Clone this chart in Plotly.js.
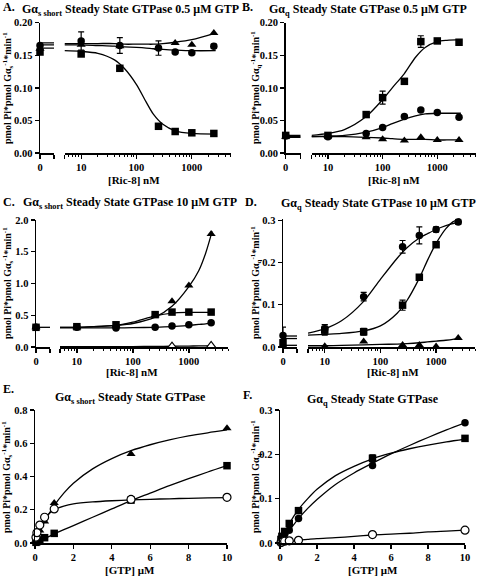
<!DOCTYPE html>
<html>
<head>
<meta charset="utf-8">
<script src="https://cdn.plot.ly/plotly-3.0.1.min.js"></script>
<style>html,body{margin:0;padding:0;background:#fff;}#chart{width:477px;height:576px;}</style>
</head>
<body>
<div id="chart"></div>
<script>
// ---------------- DATA ----------------
// Ric-8 concentrations (nM); first value (0) is drawn on the broken "0" segment
const ricConcA = [0, 10, 50, 250, 500, 1000, 2500];
const ricConcB = [0, 10, 50, 100, 250, 500, 1000, 2500];
const ricConcC = [0, 10, 50, 250, 500, 1000, 2500];
const ricConcD = [0, 10, 50, 250, 500, 1000, 2500];
const gtpConc  = [0.05, 0.1, 0.25, 0.5, 1, 5, 10];

// Panel A: Gαs short, 0.5 µM GTP
const aSquares   = [0.155, 0.152, 0.130, 0.041, 0.033, 0.031, 0.030];
const aCircles   = [0.165, 0.172, 0.165, 0.161, 0.155, 0.154, 0.164];
const aCirclesErr= [0, 0.014, 0.012, 0.011, 0, 0, 0.003];
const aTriangles = [0.160, 0.166, 0.164, 0.161, 0.169, 0.166, 0.184];
const aFitX      = [5, 10, 20, 40, 60, 100, 150, 200, 300, 500, 1000, 2700];
const aSquaresFit  = [0.157, 0.156, 0.153, 0.143, 0.130, 0.105, 0.078, 0.060, 0.044, 0.034, 0.030, 0.029];
const aCirclesFit  = [0.166, 0.166, 0.165, 0.164, 0.163, 0.162, 0.161, 0.160, 0.159, 0.158, 0.157, 0.157];
const aTrianglesFit= [0.168, 0.168, 0.168, 0.168, 0.167, 0.167, 0.167, 0.167, 0.168, 0.170, 0.174, 0.184];
const aZeroFit   = [0.161, 0.166, 0.169];

// Panel B: Gαq, 0.5 µM GTP
const bSquares   = [0.027, 0.027, 0.059, 0.085, 0.110, 0.171, 0.172, 0.170];
const bSquaresErr= [0, 0, 0, 0.010, 0, 0.009, 0.003, 0];
const bCircles   = [0.026, 0.025, 0.030, 0.039, 0.056, 0.066, 0.062, 0.055];
const bTriangles = [0.025, 0.026, 0.024, 0.021, 0.019, 0.024, 0.020, 0.020];
const bFitX      = [5, 10, 20, 50, 100, 150, 250, 400, 600, 1000, 1500, 2700];
const bSquaresFit  = [0.027, 0.030, 0.036, 0.056, 0.082, 0.100, 0.122, 0.147, 0.162, 0.171, 0.173, 0.174];
const bCirclesFit  = [0.025, 0.026, 0.027, 0.032, 0.039, 0.045, 0.052, 0.057, 0.060, 0.061, 0.061, 0.061];
const bTrianglesFit= [0.025, 0.025, 0.025, 0.024, 0.023, 0.022, 0.021, 0.021, 0.021, 0.020, 0.020, 0.020];
const bZeroFit   = [0.027, 0.025, 0.024];

// Panel C: Gαs short, 10 µM GTP
const cSquares   = [0.31, 0.32, 0.35, 0.51, 0.55, 0.55, 0.55];
const cCircles   = [0.31, 0.31, 0.30, 0.31, 0.33, 0.35, 0.38];
const cTriangles = [0.31, 0.31, 0.34, 0.50, 0.72, 0.97, 1.78];
const cOpenConc  = [500, 2500];
const cOpenTriangles = [0.01, 0.02];
const cFitX      = [5, 10, 20, 50, 100, 250, 500, 1000, 1500, 2000, 2600];
const cSquaresFit  = [0.31, 0.31, 0.32, 0.34, 0.39, 0.49, 0.535, 0.545, 0.545, 0.545, 0.545];
const cTrianglesFit= [0.31, 0.31, 0.32, 0.34, 0.37, 0.47, 0.64, 0.95, 1.20, 1.48, 1.82];
const cCirclesFit  = [0.30, 0.30, 0.30, 0.30, 0.305, 0.31, 0.32, 0.34, 0.355, 0.365, 0.38];
const cOpenFit     = [0.005, 0.005, 0.005, 0.006, 0.007, 0.009, 0.012, 0.015, 0.017, 0.019, 0.021];
const cZeroFit   = [0.31];

// Panel D: Gαq, 10 µM GTP
const dCircles   = [0.027, 0.043, 0.119, 0.237, 0.264, 0.278, 0.296];
const dCirclesErr= [0.020, 0.010, 0.010, 0.015, 0.020, 0.006, 0.006];
const dSquares   = [0.010, 0.040, 0.036, 0.099, 0.165, 0.242, 0.305];
const dSquaresErr= [0, 0.012, 0.008, 0.012, 0, 0, 0.008];
const dTriangles = [0.003, 0.002, 0.013, 0.005, 0.005, 0.001, 0.021];
const dFitX      = [5, 10, 20, 50, 100, 200, 300, 500, 700, 1000, 1500, 2000, 2700];
const dCirclesFit  = [0.033, 0.043, 0.062, 0.108, 0.160, 0.210, 0.235, 0.258, 0.268, 0.278, 0.287, 0.292, 0.298];
const dSquaresFit  = [0.028, 0.030, 0.032, 0.038, 0.050, 0.080, 0.110, 0.163, 0.205, 0.245, 0.280, 0.296, 0.304];
const dTrianglesFit= [0.003, 0.003, 0.004, 0.005, 0.006, 0.007, 0.008, 0.010, 0.012, 0.014, 0.016, 0.018, 0.021];
const dZeroFit   = [0.026, 0.020, 0.004];

// Panel E: Gαs short vs GTP
const eTriangles = [0.02, 0.04, 0.075, 0.13, 0.24, 0.535, 0.69];
const eSquares   = [0.004, 0.008, 0.018, 0.032, 0.058, 0.258, 0.465];
const eOpenCircles = [0.035, 0.062, 0.108, 0.155, 0.205, 0.262, 0.275];
const gtpFitX    = [0, 0.25, 0.5, 1, 1.5, 2, 3, 4, 5, 6, 7, 8, 9, 10];
const eTrianglesFit = [0, 0.068, 0.129, 0.225, 0.30, 0.36, 0.446, 0.508, 0.555, 0.591, 0.62, 0.644, 0.663, 0.68];
const eSquaresFit   = [0, 0.012, 0.026, 0.055, 0.08, 0.105, 0.155, 0.205, 0.255, 0.30, 0.345, 0.387, 0.427, 0.465];
const eOpenFit      = [0, 0.095, 0.148, 0.20, 0.222, 0.235, 0.247, 0.254, 0.259, 0.263, 0.266, 0.269, 0.271, 0.273];

// Panel F: Gαq vs GTP
const fCircles   = [0.005, 0.011, 0.020, 0.029, 0.055, 0.175, 0.271];
const fSquares   = [0.008, 0.015, 0.026, 0.044, 0.073, 0.191, 0.236];
const fSquaresErr= [0, 0, 0, 0, 0.003, 0.008, 0.003];
const fOpenCircles = [0.001, 0.002, 0.004, 0.005, 0.006, 0.019, 0.029];
const fSquaresFit  = [0, 0.023, 0.0435, 0.0757, 0.100, 0.121, 0.152, 0.173, 0.19, 0.2025, 0.2126, 0.221, 0.228, 0.234];
const fCirclesFit  = [0, 0.014, 0.028, 0.055, 0.078, 0.098, 0.132, 0.158, 0.180, 0.201, 0.220, 0.238, 0.255, 0.271];
const fOpenFit     = [0, 0.002, 0.003, 0.006, 0.008, 0.010, 0.012, 0.015, 0.018, 0.020, 0.022, 0.025, 0.027, 0.029];

// tick labels
const logTickVals = [5, 10, 100, 1000];
const logTickText = ['', '10', '100', '1000'];
const logMinorVals = [6,7,8,9,20,30,40,50,60,70,80,90,200,300,400,500,600,700,800,900,2000,3000,4000,5000];
const zeroSegTicks = [0, 1];
const zeroSegText = ['0', ''];
const zeroSegX = [0, 1];

// ---------------- LAYOUT HELPERS ----------------
const W = 477, H = 576;
const px = v => v / W, py = v => 1 - v / H;
const FONT = 'Liberation Serif';
const tickFont = {family: FONT, size: 10.5, color: 'black', weight: 700};
const baseAx = {showline: true, linecolor: 'black', linewidth: 1.5, ticks: 'outside', ticklen: 4,
  tickwidth: 1.3, tickcolor: 'black', showgrid: false, zeroline: false, tickfont: tickFont, fixedrange: true};

const layout = {width: W, height: H, margin: {l: 0, r: 0, t: 0, b: 0}, showlegend: false,
  font: {family: FONT, color: 'black'},
  paper_bgcolor: 'white', plot_bgcolor: 'rgba(0,0,0,0)', annotations: [], shapes: []};
const traces = [];

function ric8Panel(n, geo, yRange, yTicks, yFmt) {
  const zx = 'xaxis' + (2 * n - 1 === 1 ? '' : (2 * n - 1));
  const lx = 'xaxis' + (2 * n);
  const yk = 'yaxis' + (n === 1 ? '' : n);
  const yId = 'y' + (n === 1 ? '' : n);
  const zxId = 'x' + (2 * n - 1 === 1 ? '' : (2 * n - 1));
  layout[zx] = Object.assign({}, baseAx, {domain: [px(geo.zero[0]), px(geo.zero[1])], range: [0, 1],
    tickmode: 'array', tickvals: zeroSegTicks, ticktext: zeroSegText, anchor: yId});
  layout[lx] = Object.assign({}, baseAx, {domain: [px(geo.log[0]), px(geo.log[1])], type: 'log',
    range: [Math.log10(5), Math.log10(5000)], tickmode: 'array', tickvals: logTickVals, ticktext: logTickText,
    anchor: yId, minor: {tickmode: 'array', tickvals: logMinorVals, ticks: 'outside', ticklen: 2.5,
    tickwidth: 1, tickcolor: 'black', showgrid: false}});
  layout[yk] = Object.assign({}, baseAx, {domain: [py(geo.yBot), py(geo.yTop)], range: yRange,
    tickmode: 'array', tickvals: yTicks, tickformat: yFmt, anchor: zxId});
  return {zx: zxId, lx: 'x' + (2 * n), y: yId};
}

function linePanel(xName, yName, geo, xRange, xTicks, yRange, yTicks, yFmt) {
  const xk = 'xaxis' + xName.slice(1), yk = 'yaxis' + yName.slice(1);
  layout[xk] = Object.assign({}, baseAx, {domain: [px(geo.x[0]), px(geo.x[1])], range: xRange,
    tickmode: 'array', tickvals: xTicks, anchor: yName});
  layout[yk] = Object.assign({}, baseAx, {domain: [py(geo.yBot), py(geo.yTop)], range: yRange,
    tickmode: 'array', tickvals: yTicks, tickformat: yFmt, anchor: xName});
}

const SYM = {
  sq: {symbol: 'square', size: 7.5, color: 'black'},
  ci: {symbol: 'circle', size: 7.5, color: 'black'},
  tr: {symbol: 'triangle-up', size: 8, color: 'black'},
  oci: {symbol: 'circle', size: 8, color: 'white', line: {color: 'black', width: 1.2}},
  otr: {symbol: 'triangle-up', size: 8.5, color: 'white', line: {color: 'black', width: 1.2}}
};

function addLine(x, y, xa, ya) {
  traces.push({type: 'scatter', mode: 'lines', x: x, y: y, xaxis: xa, yaxis: ya, cliponaxis: false,
    line: {color: 'black', width: 1.3, shape: 'spline', smoothing: 0.8}, hoverinfo: 'skip'});
}
function addPts(x, y, xa, ya, sym, err) {
  const t = {type: 'scatter', mode: 'markers', x: x, y: y, xaxis: xa, yaxis: ya, cliponaxis: false,
    marker: SYM[sym], hoverinfo: 'skip'};
  if (err) t.error_y = {type: 'data', array: err, visible: true, color: 'black', thickness: 1.2, width: 3};
  traces.push(t);
}
// split series: first value at 0 (broken segment), rest on log segment
function addRicSeries(conc, vals, ax, sym, err) {
  addPts([conc[0]], [vals[0]], ax.zx, ax.y, sym, err ? [err[0]] : null);
  addPts(conc.slice(1), vals.slice(1), ax.lx, ax.y, sym, err ? err.slice(1) : null);
}
function addZeroFits(fits, ax) {
  fits.forEach(v => addLine(zeroSegX, [v, v], ax.zx, ax.y));
}

// ---------------- PANELS ----------------
const axA = ric8Panel(1, {yTop: 22.7, yBot: 153, zero: [40, 54], log: [64.5, 230.5]}, [0, 0.2], [0, 0.05, 0.10, 0.15, 0.20], '.2f');
const axB = ric8Panel(2, {yTop: 22.7, yBot: 153, zero: [285.7, 300.7], log: [311.5, 475.5]}, [0, 0.2], [0, 0.05, 0.10, 0.15, 0.20], '.2f');
const axC = ric8Panel(3, {yTop: 220, yBot: 347, zero: [36, 50], log: [60, 228]}, [0, 2.0], [0, 0.5, 1.0, 1.5, 2.0], '.1f');
const axD = ric8Panel(4, {yTop: 218.5, yBot: 347, zero: [283, 297], log: [308, 475]}, [0, 0.304], [0, 0.1, 0.2, 0.3], '.1f');
linePanel('x9', 'y5', {yTop: 410, yBot: 543, x: [35, 227]}, [0, 10], [0, 2, 4, 6, 8, 10], [0, 0.8], [0, 0.2, 0.4, 0.6, 0.8], '.1f');
linePanel('x10', 'y6', {yTop: 410, yBot: 543, x: [280, 465]}, [0, 10], [0, 2, 4, 6, 8, 10], [0, 0.3], [0, 0.1, 0.2, 0.3], '.1f');

// A
addZeroFits(aZeroFit, axA);
addLine(aFitX, aSquaresFit, axA.lx, axA.y);
addLine(aFitX, aCirclesFit, axA.lx, axA.y);
addLine(aFitX, aTrianglesFit, axA.lx, axA.y);
addRicSeries(ricConcA, aTriangles, axA, 'tr');
addRicSeries(ricConcA, aCircles, axA, 'ci', aCirclesErr);
addRicSeries(ricConcA, aSquares, axA, 'sq');
// B
addZeroFits(bZeroFit, axB);
addLine(bFitX, bSquaresFit, axB.lx, axB.y);
addLine(bFitX, bCirclesFit, axB.lx, axB.y);
addLine(bFitX, bTrianglesFit, axB.lx, axB.y);
addRicSeries(ricConcB, bTriangles, axB, 'tr');
addRicSeries(ricConcB, bCircles, axB, 'ci');
addRicSeries(ricConcB, bSquares, axB, 'sq', bSquaresErr);
// C
addZeroFits(cZeroFit, axC);
addLine(cFitX, cSquaresFit, axC.lx, axC.y);
addLine(cFitX, cTrianglesFit, axC.lx, axC.y);
addLine(cFitX, cCirclesFit, axC.lx, axC.y);
addLine(cFitX, cOpenFit, axC.lx, axC.y);
addRicSeries(ricConcC, cCircles, axC, 'ci');
addRicSeries(ricConcC, cTriangles, axC, 'tr');
addRicSeries(ricConcC, cSquares, axC, 'sq');
addPts(cOpenConc, cOpenTriangles, axC.lx, axC.y, 'otr');
// D
addZeroFits(dZeroFit, axD);
addLine(dFitX, dCirclesFit, axD.lx, axD.y);
addLine(dFitX, dSquaresFit, axD.lx, axD.y);
addLine(dFitX, dTrianglesFit, axD.lx, axD.y);
addRicSeries(ricConcD, dTriangles, axD, 'tr');
addRicSeries(ricConcD, dCircles, axD, 'ci', dCirclesErr);
addRicSeries(ricConcD, dSquares, axD, 'sq', dSquaresErr);
// E
addLine(gtpFitX, eTrianglesFit, 'x9', 'y5');
addLine(gtpFitX, eSquaresFit, 'x9', 'y5');
addLine(gtpFitX, eOpenFit, 'x9', 'y5');
addPts(gtpConc, eTriangles, 'x9', 'y5', 'tr');
addPts(gtpConc, eSquares, 'x9', 'y5', 'sq');
addPts(gtpConc, eOpenCircles, 'x9', 'y5', 'oci');
// F
addLine(gtpFitX, fSquaresFit, 'x10', 'y6');
addLine(gtpFitX, fCirclesFit, 'x10', 'y6');
addLine(gtpFitX, fOpenFit, 'x10', 'y6');
addPts(gtpConc, fCircles, 'x10', 'y6', 'ci');
addPts(gtpConc, fSquares, 'x10', 'y6', 'sq', fSquaresErr);
addPts(gtpConc, fOpenCircles, 'x10', 'y6', 'oci');

// ---------------- TEXT ----------------
function ann(text, xPx, yPx, size, opts) {
  layout.annotations.push(Object.assign({text: '<b>' + text + '</b>', x: px(xPx), y: py(yPx), xref: 'paper', yref: 'paper',
    showarrow: false, xanchor: 'center', yanchor: 'middle', font: {family: FONT, size: size, color: 'black'}}, opts || {}));
}
const gs = 'Gα<sub>s short</sub>', gq = 'Gα<sub>q</sub>';
ann('A.', 1, 7, 12, {xanchor: 'left'});
ann(gs + ' Steady State GTPase 0.5 μM GTP', 130, 10, 12);
ann('B.', 240, 7, 12, {xanchor: 'left'});
ann(gq + ' Steady State GTPase 0.5 μM GTP', 368, 10, 12);
ann('C.', 1, 202, 12, {xanchor: 'left'});
ann(gs + ' Steady State GTPase 10 μM GTP', 130, 203, 12);
ann('D.', 243, 202, 12, {xanchor: 'left'});
ann(gq + ' Steady State GTPase 10 μM GTP', 378, 204, 12);
ann('E.', 1, 389, 12, {xanchor: 'left'});
ann(gs + ' Steady State GTPase', 130, 398, 12);
ann('F.', 241, 395, 12, {xanchor: 'left'});
ann(gq + ' Steady State GTPase', 373, 400, 12);

const ys = 'pmol Pi*pmol Gα<sub>s</sub><sup>-1</sup>*min<sup>-1</sup>';
const yq = 'pmol Pi*pmol Gα<sub>q</sub><sup>-1</sup>*min<sup>-1</sup>';
ann(ys, 8, 88, 10, {textangle: -90});
ann(yq, 256, 88, 10, {textangle: -90});
ann(ys, 8, 283, 10, {textangle: -90});
ann(yq, 256, 283, 10, {textangle: -90});
ann(ys, 7, 477, 10, {textangle: -90});
ann(yq, 256, 477, 10, {textangle: -90});

ann('[Ric-8] nM', 134, 180, 11);
ann('[Ric-8] nM', 394, 180, 11);
ann('[Ric-8] nM', 132, 372, 11);
ann('[Ric-8] nM', 393, 372, 11);
ann('[GTP] μM', 130, 570, 11);
ann('[GTP] μM', 373, 570, 11);

Plotly.newPlot('chart', traces, layout, {staticPlot: true, displayModeBar: false});
</script>
</body>
</html>
